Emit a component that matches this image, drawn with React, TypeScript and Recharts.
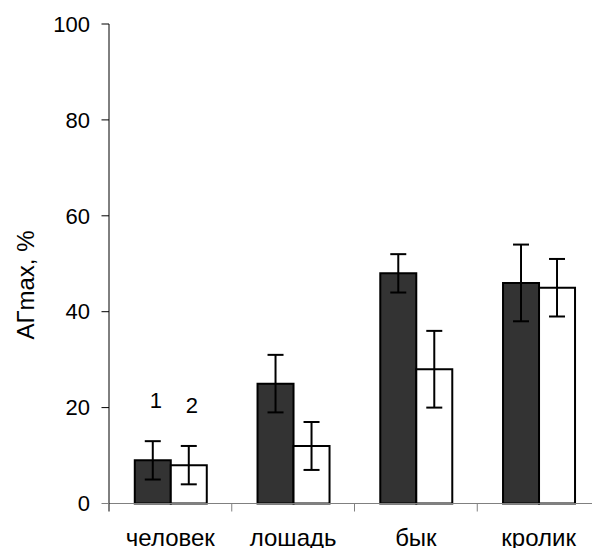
import React from 'react';
import { BarChart, Bar, XAxis, YAxis, ErrorBar, LabelList } from 'recharts';

const categories = ['человек', 'лошадь', 'бык', 'кролик'];
const series1 = [9, 25, 48, 46];
const series2 = [8, 12, 28, 45];
const error1 = [4, 6, 4, 8];
const error2 = [4, 5, 8, 6];
const seriesLabels = ['1', '2'];
const yTicks = [0, 20, 40, 60, 80, 100];
const yAxisTitle = 'АГmax, %';

const FONT = "'Liberation Sans', Arial, sans-serif";

const data = categories.map((c, i) => ({
  name: c,
  s1: series1[i],
  s2: series2[i],
  e1: error1[i],
  e2: error2[i],
}));

const XTick = (props: any) => {
  const { x, y, payload, index } = props;
  const half = payload && typeof payload.offset === 'number' && payload.offset > 0 ? payload.offset : 61.375;
  return (
    <g>
      <line x1={x - half} y1={y} x2={x - half} y2={y + 8} stroke={index === 0 ? '#000' : '#808080'} strokeWidth={1} />
      <text x={x} y={y + 42.5} textAnchor="middle" fontSize={24} fill="#000" fontFamily={FONT}>
        {payload.value}
      </text>
    </g>
  );
};

const YTick = (props: any) => {
  const { x, y, payload } = props;
  return (
    <g>
      <line x1={x - 7.5} y1={y} x2={x} y2={y} stroke={payload.value === 0 ? '#808080' : '#000'} strokeWidth={1} />
      <text x={x - 19} y={y} dy="0.35em" textAnchor="end" fontSize={22} fill="#000" fontFamily={FONT}>
        {payload.value}
      </text>
    </g>
  );
};

const makeSeriesLabel = (text: string) => (props: any) => {
  const vb = props.viewBox || {};
  const x = Number(props.x ?? vb.x);
  const y = Number(props.y ?? vb.y);
  const width = Number(props.width ?? vb.width);
  if (props.index !== 0) return null;
  return (
    <text x={x + width / 2 + 3} y={y - 60} dy="0.35em" textAnchor="middle" fontSize={22} fill="#000" fontFamily={FONT}>
      {text}
    </text>
  );
};

export default function App() {
  return (
    <div style={{ position: 'absolute', left: 0, top: 0, width: 592, height: 548, overflow: 'hidden', background: '#fff' }}>
      <BarChart
        width={600}
        height={548}
        data={data}
        margin={{ top: 24, right: 0, bottom: 0, left: 0 }}
        barCategoryGap="21%"
        barGap={0}
      >
        <XAxis
          dataKey="name"
          height={44.5}
          axisLine={{ stroke: '#808080', strokeWidth: 1 }}
          tickLine={false}
          tickSize={0}
          tickMargin={0}
          interval={0}
          tick={<XTick />}
        />
        <YAxis
          width={109}
          domain={[0, 100]}
          ticks={yTicks}
          interval={0}
          axisLine={{ stroke: '#000', strokeWidth: 1 }}
          tickLine={false}
          tickSize={0}
          tickMargin={0}
          tick={<YTick />}
        />
        <Bar dataKey="s1" fill="#333333" stroke="#000" strokeWidth={2} isAnimationActive={false}>
          <ErrorBar dataKey="e1" width={8} strokeWidth={2} stroke="#000" isAnimationActive={false} />
          <LabelList content={makeSeriesLabel(seriesLabels[0])} />
        </Bar>
        <Bar dataKey="s2" fill="#ffffff" stroke="#000" strokeWidth={2} isAnimationActive={false}>
          <ErrorBar dataKey="e2" width={8} strokeWidth={2} stroke="#000" isAnimationActive={false} />
          <LabelList content={makeSeriesLabel(seriesLabels[1])} />
        </Bar>
      </BarChart>
      <div
        style={{
          position: 'absolute',
          left: 26 - 100,
          top: 285 - 15,
          width: 200,
          height: 30,
          lineHeight: '30px',
          fontSize: 24,
          fontFamily: FONT,
          color: '#000',
          textAlign: 'center',
          whiteSpace: 'nowrap',
          transform: 'rotate(-90deg)',
        }}
      >
        {yAxisTitle}
      </div>
    </div>
  );
}
